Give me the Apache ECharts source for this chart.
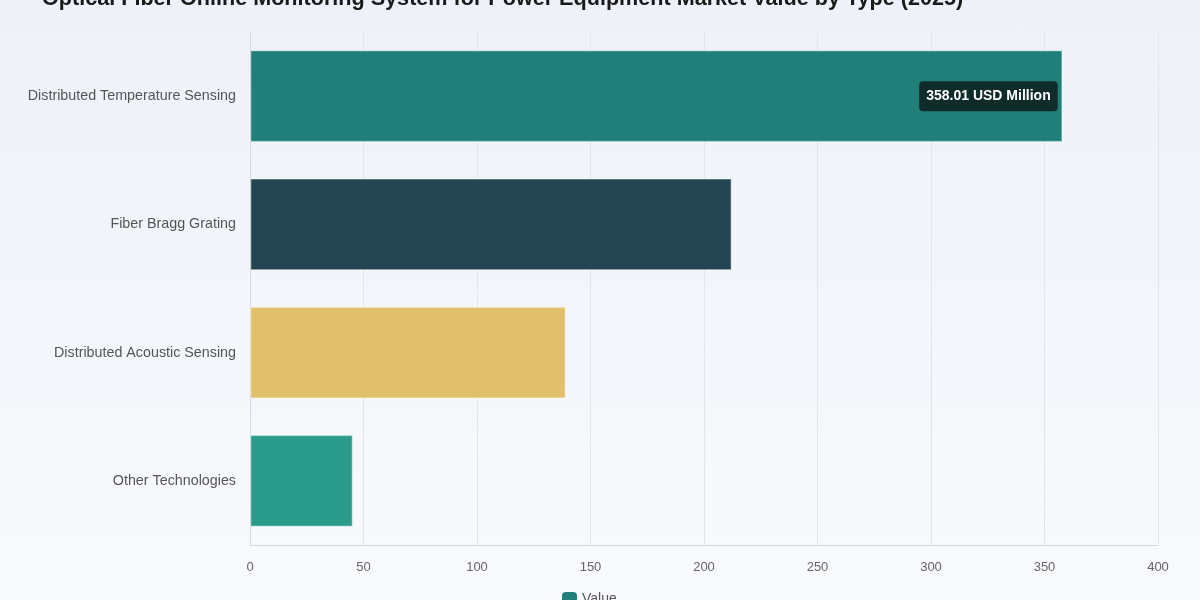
<!DOCTYPE html>
<html><head><meta charset="utf-8">
<script src="https://cdn.jsdelivr.net/npm/echarts@6/dist/echarts.min.js"></script>
<style>html,body{margin:0;padding:0;}#c{width:1200px;height:600px;background:linear-gradient(180deg,#eef1f9 0%,#f8fafd 100%);}</style>
</head><body><div id="c"></div>
<script>
const titleText = 'Optical Fiber Online Monitoring System for Power Equipment Market Value by Type (2025)';
const categories = ['Distributed Temperature Sensing','Fiber Bragg Grating','Distributed Acoustic Sensing','Other Technologies'];
const values = [358.01, 212.3, 139.2, 45.4];
const barColors = ['#217f79','#244552','#e2bf6b','#2a9a8b'];
const xTicks = {min:0, max:400, interval:50};
const seriesName = 'Value';
const unit = 'USD Million';

const chart = echarts.init(document.getElementById('c'));
chart.setOption({
  backgroundColor: 'transparent',
  title: {text: titleText, left: 37, top: -17, textStyle:{fontSize:21.6, fontWeight:'bold', color:'#1a1a1a', fontFamily:'Liberation Sans, Arial'}},
  legend: {bottom: -12, left: 557, itemWidth:15, itemHeight:15, itemGap:10, data:[seriesName], textStyle:{color:'#555', fontSize:14}},
  grid: {left:250, right:42, top:32, bottom:55, containLabel:false},
  xAxis: {type:'value', min:xTicks.min, max:xTicks.max, interval:xTicks.interval,
    axisLine:{show:true, lineStyle:{color:'#d5d8de'}}, axisTick:{show:false},
    axisLabel:{color:'#666', fontSize:13, margin:16},
    splitLine:{lineStyle:{color:'#e3e5ea'}}},
  yAxis: {type:'category', data:categories, inverse:true,
    axisLine:{show:true, lineStyle:{color:'#d5d8de'}}, axisTick:{show:false},
    axisLabel:{color:'#555', fontSize:14.3, margin:14}},
  series: [{
    name: seriesName, type:'bar', barWidth:'72%',
    itemStyle:{color:'#217f79'},
    data: values.map((v,i)=>({value:v, itemStyle:{color:barColors[i], borderColor:'rgba(255,255,255,0.35)', borderWidth:1.5},
      label: i===0 ? {show:true, position:'insideRight', distance:5, formatter: p => p.value.toFixed(2)+' '+unit,
        color:'#fff', fontWeight:'bold', fontSize:14, backgroundColor:'#0f2b2a', borderRadius:4, padding:[8,7]} : {show:false}}))
  }]
});
</script></body></html>
